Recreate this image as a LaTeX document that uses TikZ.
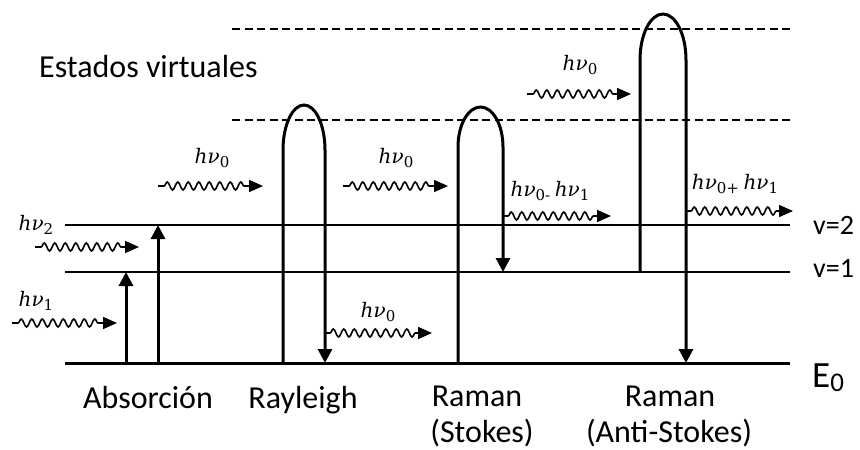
\documentclass[tikz,border=0pt]{standalone}
\usepackage{fontspec}
\setmainfont{Carlito}
\newfontfamily\phf{DejaVu Serif}
\newcommand\hnu[1]{{\phf\itshape hν}\raisebox{-4pt}{\phf\fontsize{15}{16}\selectfont #1}}
\usetikzlibrary{decorations.pathmorphing,arrows.meta}
\begin{document}
\begin{tikzpicture}[x=1pt,y=-1pt,
  level/.style={line width=2pt},
  ground/.style={line width=3pt},
  virt/.style={line width=1.8pt, dash pattern=on 8pt off 4.5pt},
  trans/.style={line width=3pt},
  tip/.style={-{Triangle[length=14pt,width=14pt]}},
  photon/.style={line width=1.6pt, decorate,
    decoration={snake,segment length=10.5pt,amplitude=4pt,pre length=6pt,post length=14pt},
    -{Triangle[length=14pt,width=12pt]}},
  lbl/.style={font=\fontsize{32}{38}\selectfont, anchor=base, inner sep=0pt},
  phlbl/.style={font=\fontsize{20}{24}\selectfont, inner sep=0pt},
]
\useasboundingbox (0,0) rectangle (860,450);

% energy levels
\coordinate (E0a) at (65,363);  \coordinate (E0b) at (790,363);
\coordinate (V1a) at (65,272);  \coordinate (V1b) at (790,272);
\coordinate (V2a) at (65,225);  \coordinate (V2b) at (790,225);
\coordinate (D1a) at (232,120); \coordinate (D1b) at (790,120);
\coordinate (D2a) at (232,29);  \coordinate (D2b) at (790,29);
\draw[ground] (E0a) -- (E0b);
\draw[level] (V1a) -- (V1b);
\draw[level] (V2a) -- (V2b);
\draw[virt] (D1a) -- (D1b);
\draw[virt] (D2a) -- (D2b);

% level labels
\node[anchor=base west, inner sep=0pt, font=\fontsize{28}{32}\selectfont] (lv2) at (813,234) {v=2};
\node[anchor=base west, inner sep=0pt, font=\fontsize{28}{32}\selectfont] (lv1) at (813,277) {v=1};
\node[anchor=base west, inner sep=0pt, font=\fontsize{37}{40}\selectfont] (lE0) at (812,387) {E\raisebox{-4pt}{\fontsize{27}{30}\selectfont 0}};
\node[lbl, anchor=base west] (estados) at (39,77) {Estados virtuales};

% absorption
\coordinate (abs1a) at (126,363); \coordinate (abs1b) at (126,272);
\coordinate (abs2a) at (158,363); \coordinate (abs2b) at (158,225);
\draw[trans,tip] (abs1a) -- (abs1b);
\draw[trans,tip] (abs2a) -- (abs2b);
\coordinate (p1a) at (12,323); \coordinate (p1b) at (117,323);
\coordinate (p2a) at (35,247); \coordinate (p2b) at (139,247);
\draw[photon] (p1a) -- (p1b);
\draw[photon] (p2a) -- (p2b);
\node[phlbl] (lp1) at (36,301) {\hnu{1}};
\node[phlbl] (lp2) at (36,225) {\hnu{2}};

% Rayleigh
\coordinate (rayA) at (283,363); \coordinate (rayB) at (325,363);
\draw[trans,tip] (rayA) -- (283,150) .. controls (283,125.2) and (292.4,105) .. (304,105)
  .. controls (315.6,105) and (325,125.2) .. (325,150) -- (rayB);
\coordinate (pr1a) at (158,186); \coordinate (pr1b) at (263,186);
\coordinate (pr2a) at (326,333); \coordinate (pr2b) at (432,333);
\draw[photon] (pr1a) -- (pr1b);
\draw[photon, decoration={pre length=4pt}] (pr2a) -- (pr2b);
\node[phlbl] (lr1) at (212,158) {\hnu{0}};
\node[phlbl] (lr2) at (378,312) {\hnu{0}};

% Raman Stokes
\coordinate (stA) at (458,363); \coordinate (stB) at (503,272);
\draw[trans,tip] (stA) -- (458,147) .. controls (458,124.9) and (468.1,107) .. (480.5,107)
  .. controls (492.9,107) and (503,124.9) .. (503,147) -- (stB);
\coordinate (ps1a) at (343,186); \coordinate (ps1b) at (448,186);
\coordinate (ps2a) at (504,216); \coordinate (ps2b) at (611,216);
\draw[photon] (ps1a) -- (ps1b);
\draw[photon, decoration={pre length=4pt}] (ps2a) -- (ps2b);
\node[phlbl] (ls1) at (396,158) {\hnu{0}};
\node[phlbl] (ls2) at (550,191) {\hnu{0-} \hnu{1}};

% Raman anti-Stokes
\coordinate (asA) at (640,272); \coordinate (asB) at (686,363);
\draw[trans,tip] (asA) -- (640,60) .. controls (640,34.6) and (650.3,14) .. (663,14)
  .. controls (675.7,14) and (686,34.6) .. (686,60) -- (asB);
\coordinate (pa1a) at (527,94); \coordinate (pa1b) at (631,94);
\coordinate (pa2a) at (687,211); \coordinate (pa2b) at (793,211);
\draw[photon] (pa1a) -- (pa1b);
\draw[photon, decoration={pre length=4pt}] (pa2a) -- (pa2b);
\node[phlbl] (la1) at (580,65) {\hnu{0}};
\node[phlbl] (la2) at (735,184) {\hnu{0+} \hnu{1}};

% process labels
\node[lbl] (tAbs) at (148,408) {Absorción};
\node[lbl] (tRay) at (303,408) {Rayleigh};
\node[lbl] (tRS1) at (477,406) {Raman};
\node[lbl] (tRS2) at (482,442) {(Stokes)};
\node[lbl] (tRA1) at (670,406) {Raman};
\node[lbl] (tRA2) at (669,442) {(Anti-Stokes)};
\end{tikzpicture}
\end{document}
